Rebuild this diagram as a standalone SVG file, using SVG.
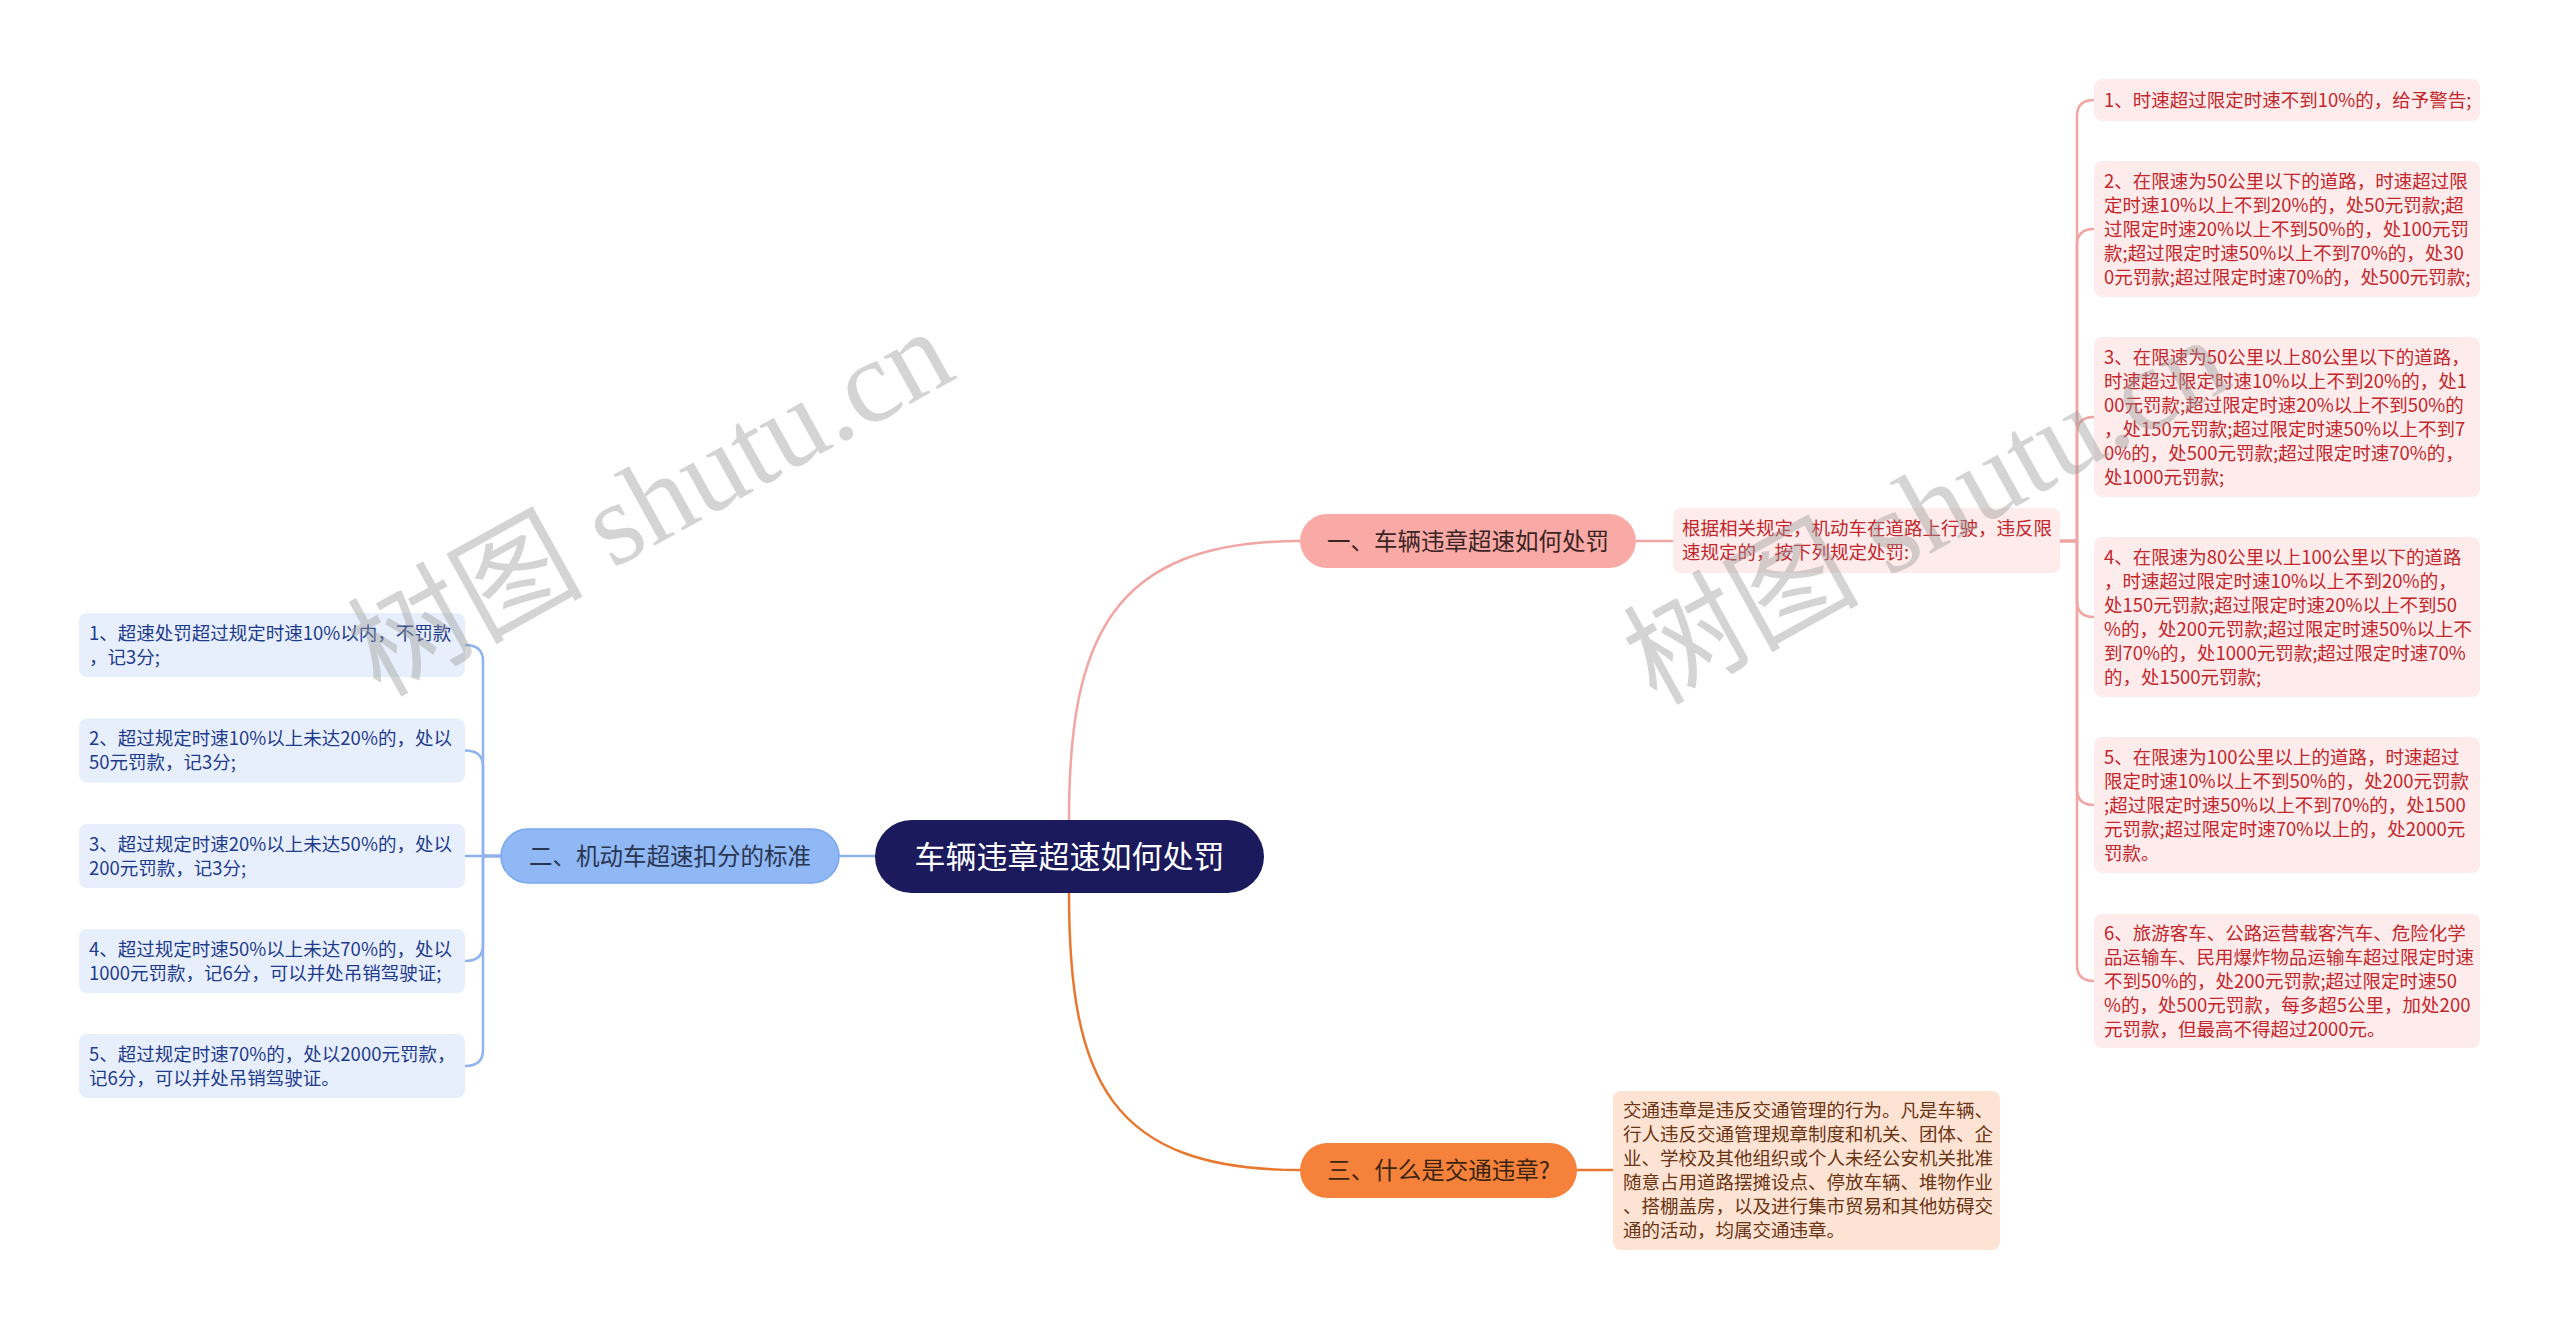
<svg xmlns="http://www.w3.org/2000/svg" width="2560" height="1330" viewBox="0 0 2560 1330">
<style>
text{font-family:"Noto Sans CJK SC","Noto Sans",sans-serif}
.leaf{font-size:18.5px}
.pk{fill:#fdeceb}
.pkt{fill:#c3262c}
.bl{fill:#e8effc}
.blt{fill:#1f3c8c}
.or{fill:#fde3d4}
.ort{fill:#6b3412}
.br{font-size:23.5px;text-anchor:middle}
.c{fill:none;stroke-linecap:round;stroke-linejoin:round}
.cp{stroke:#f0a6a3;stroke-width:2.5}
.cb{stroke:#8fb3ec;stroke-width:2.5}
.co{stroke:#e8772f;stroke-width:2.5}
.wm{font-family:"Liberation Serif","Noto Sans CJK SC",serif;font-size:118px;fill:#9a9a9a;opacity:0.42}
</style>
<rect width="2560" height="1330" fill="#ffffff"/>
<g id="connectors">
<path class="c cp" d="M1069 820 C1069 640 1110 541 1300 541"/>
<path class="c co" d="M1069 893 C1069 1080 1110 1170 1300 1170"/>
<path class="c cb" d="M875 856 L839 856"/>
<path class="c cp" d="M1636 541 L1673 541"/>
<path class="c co" d="M1577 1170 L1613 1170"/>
<path class="c cp" d="M2060 541 H2077 V116 Q2077 100 2094 100"/>
<path class="c cp" d="M2060 541 H2077 V245 Q2077 229 2094 229"/>
<path class="c cp" d="M2060 541 H2077 V433 Q2077 417 2094 417"/>
<path class="c cp" d="M2060 541 H2077 V601 Q2077 617 2094 617"/>
<path class="c cp" d="M2060 541 H2077 V789 Q2077 805 2094 805"/>
<path class="c cp" d="M2060 541 H2077 V965 Q2077 981 2094 981"/>
<path class="c cb" d="M501 856 H483 V661 Q483 645 465 645"/>
<path class="c cb" d="M501 856 H483 V766.5 Q483 750.5 465 750.5"/>
<path class="c cb" d="M501 856 H465"/>
<path class="c cb" d="M501 856 H483 V945 Q483 961 465 961"/>
<path class="c cb" d="M501 856 H483 V1050 Q483 1066 465 1066"/>
</g>
<g id="root">
<rect x="875" y="820" width="389" height="73" rx="36.5" fill="#1b1a5c"/>
<text x="1069.5" y="868" font-size="31" text-anchor="middle" fill="#ffffff">车辆违章超速如何处罚</text>
</g>
<g id="branch1">
<rect x="1300" y="514" width="336" height="54" rx="27" fill="#f9aaa6"/>
<text class="br" x="1468" y="549.5" fill="#3b2424">一、车辆违章超速如何处罚</text>
</g>
<g id="branch2">
<rect x="501" y="829" width="338" height="54" rx="27" fill="#8fb8f5" stroke="#7ca7ec" stroke-width="1.5"/>
<text class="br" x="670" y="864.5" fill="#2a3550">二、机动车超速扣分的标准</text>
</g>
<g id="branch3">
<rect x="1300" y="1143" width="277" height="55" rx="27.5" fill="#f5813a"/>
<text class="br" x="1438.5" y="1178.5" fill="#3a2410">三、什么是交通违章?</text>
</g>
<g id="b1-intro">
<rect class="pk" x="1673" y="508" width="387" height="65" rx="8"/>
<text class="leaf pkt" x="1682" y="535"><tspan x="1682">根据相关规定，机动车在道路上行驶，违反限</tspan><tspan x="1682" dy="24">速规定的，按下列规定处罚:</tspan></text>
</g>
<g id="r1">
<rect class="pk" x="2094" y="79" width="386" height="42" rx="8"/>
<text class="leaf pkt" x="2104" y="106.5">1、时速超过限定时速不到10%的，给予警告;</text>
</g>
<g id="r2">
<rect class="pk" x="2094" y="161" width="386" height="136" rx="8"/>
<text class="leaf pkt" x="2104" y="187.5"><tspan x="2104">2、在限速为50公里以下的道路，时速超过限</tspan><tspan x="2104" dy="24">定时速10%以上不到20%的，处50元罚款;超</tspan><tspan x="2104" dy="24">过限定时速20%以上不到50%的，处100元罚</tspan><tspan x="2104" dy="24">款;超过限定时速50%以上不到70%的，处30</tspan><tspan x="2104" dy="24">0元罚款;超过限定时速70%的，处500元罚款;</tspan></text>
</g>
<g id="r3">
<rect class="pk" x="2094" y="337" width="386" height="160" rx="8"/>
<text class="leaf pkt" x="2104" y="363.5"><tspan x="2104">3、在限速为50公里以上80公里以下的道路，</tspan><tspan x="2104" dy="24">时速超过限定时速10%以上不到20%的，处1</tspan><tspan x="2104" dy="24">00元罚款;超过限定时速20%以上不到50%的</tspan><tspan x="2104" dy="24">，处150元罚款;超过限定时速50%以上不到7</tspan><tspan x="2104" dy="24">0%的，处500元罚款;超过限定时速70%的，</tspan><tspan x="2104" dy="24">处1000元罚款;</tspan></text>
</g>
<g id="r4">
<rect class="pk" x="2094" y="537" width="386" height="160" rx="8"/>
<text class="leaf pkt" x="2104" y="563.5"><tspan x="2104">4、在限速为80公里以上100公里以下的道路</tspan><tspan x="2104" dy="24">，时速超过限定时速10%以上不到20%的，</tspan><tspan x="2104" dy="24">处150元罚款;超过限定时速20%以上不到50</tspan><tspan x="2104" dy="24">%的，处200元罚款;超过限定时速50%以上不</tspan><tspan x="2104" dy="24">到70%的，处1000元罚款;超过限定时速70%</tspan><tspan x="2104" dy="24">的，处1500元罚款;</tspan></text>
</g>
<g id="r5">
<rect class="pk" x="2094" y="737" width="386" height="136" rx="8"/>
<text class="leaf pkt" x="2104" y="763.5"><tspan x="2104">5、在限速为100公里以上的道路，时速超过</tspan><tspan x="2104" dy="24">限定时速10%以上不到50%的，处200元罚款</tspan><tspan x="2104" dy="24">;超过限定时速50%以上不到70%的，处1500</tspan><tspan x="2104" dy="24">元罚款;超过限定时速70%以上的，处2000元</tspan><tspan x="2104" dy="24">罚款。</tspan></text>
</g>
<g id="r6">
<rect class="pk" x="2094" y="914" width="386" height="134" rx="8"/>
<text class="leaf pkt" x="2104" y="939.5"><tspan x="2104">6、旅游客车、公路运营载客汽车、危险化学</tspan><tspan x="2104" dy="24">品运输车、民用爆炸物品运输车超过限定时速</tspan><tspan x="2104" dy="24">不到50%的，处200元罚款;超过限定时速50</tspan><tspan x="2104" dy="24">%的，处500元罚款，每多超5公里，加处200</tspan><tspan x="2104" dy="24">元罚款，但最高不得超过2000元。</tspan></text>
</g>
<g id="l1">
<rect class="bl" x="79" y="613" width="386" height="64" rx="8"/>
<text class="leaf blt" x="89" y="639.5"><tspan x="89">1、超速处罚超过规定时速10%以内，不罚款</tspan><tspan x="89" dy="24">，记3分;</tspan></text>
</g>
<g id="l2">
<rect class="bl" x="79" y="718.5" width="386" height="64" rx="8"/>
<text class="leaf blt" x="89" y="745"><tspan x="89">2、超过规定时速10%以上未达20%的，处以</tspan><tspan x="89" dy="24">50元罚款，记3分;</tspan></text>
</g>
<g id="l3">
<rect class="bl" x="79" y="824" width="386" height="64" rx="8"/>
<text class="leaf blt" x="89" y="850.5"><tspan x="89">3、超过规定时速20%以上未达50%的，处以</tspan><tspan x="89" dy="24">200元罚款，记3分;</tspan></text>
</g>
<g id="l4">
<rect class="bl" x="79" y="929" width="386" height="64" rx="8"/>
<text class="leaf blt" x="89" y="955.5"><tspan x="89">4、超过规定时速50%以上未达70%的，处以</tspan><tspan x="89" dy="24">1000元罚款，记6分，可以并处吊销驾驶证;</tspan></text>
</g>
<g id="l5">
<rect class="bl" x="79" y="1034" width="386" height="64" rx="8"/>
<text class="leaf blt" x="89" y="1060.5"><tspan x="89">5、超过规定时速70%的，处以2000元罚款，</tspan><tspan x="89" dy="24">记6分，可以并处吊销驾驶证。</tspan></text>
</g>
<g id="b3-detail">
<rect class="or" x="1613" y="1091" width="387" height="159" rx="8"/>
<text class="leaf ort" x="1623" y="1117"><tspan x="1623">交通违章是违反交通管理的行为。凡是车辆、</tspan><tspan x="1623" dy="24">行人违反交通管理规章制度和机关、团体、企</tspan><tspan x="1623" dy="24">业、学校及其他组织或个人未经公安机关批准</tspan><tspan x="1623" dy="24">随意占用道路摆摊设点、停放车辆、堆物作业</tspan><tspan x="1623" dy="24">、搭棚盖房，以及进行集市贸易和其他妨碍交</tspan><tspan x="1623" dy="24">通的活动，均属交通违章。</tspan></text>
</g>
<g id="watermarks">
<text class="wm" x="380" y="698" transform="rotate(-29 380 698)">树图 shutu.cn</text>
<text class="wm" x="1656" y="706" transform="rotate(-29 1656 706)">树图 shutu.cn</text>
</g>
</svg>
